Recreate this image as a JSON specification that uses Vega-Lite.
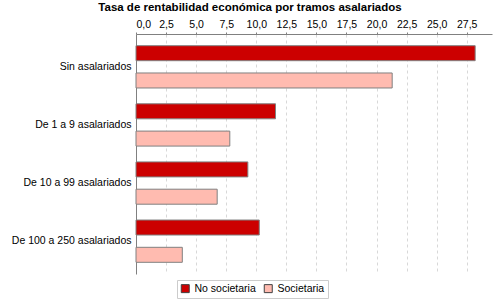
{
  "$schema": "https://vega.github.io/schema/vega-lite/v6.json",
  "autosize": "none",
  "padding": {"left": 136, "top": 34, "right": 7, "bottom": 26},
  "width": 356,
  "height": 240,
  "background": "white",
  "title": {
    "text": "Tasa de rentabilidad económica por tramos asalariados",
    "font": "Liberation Sans",
    "fontSize": 11.5,
    "fontWeight": "bold",
    "color": "#000000",
    "anchor": "middle",
    "dx": -64,
    "offset": 6
  },
  "data": {
    "values": [
      {"tramo": "Sin asalariados", "tipo": "No societaria", "valor": 28.2},
      {"tramo": "Sin asalariados", "tipo": "Societaria", "valor": 21.3},
      {"tramo": "De 1 a 9 asalariados", "tipo": "No societaria", "valor": 11.6},
      {"tramo": "De 1 a 9 asalariados", "tipo": "Societaria", "valor": 7.8},
      {"tramo": "De 10 a 99 asalariados", "tipo": "No societaria", "valor": 9.3},
      {"tramo": "De 10 a 99 asalariados", "tipo": "Societaria", "valor": 6.75},
      {"tramo": "De 100 a 250 asalariados", "tipo": "No societaria", "valor": 10.25},
      {"tramo": "De 100 a 250 asalariados", "tipo": "Societaria", "valor": 3.85}
    ]
  },
  "mark": {"type": "bar", "stroke": "#808080", "strokeWidth": 1},
  "encoding": {
    "y": {
      "field": "tramo",
      "type": "nominal",
      "sort": null,
      "title": null,
      "scale": {"paddingInner": 0, "paddingOuter": 0.065},
      "axis": {
        "ticks": false,
        "domainColor": "#808080",
        "labelFont": "Liberation Sans",
        "labelFontSize": 10.5,
        "labelColor": "#000000",
        "labelPadding": 5
      }
    },
    "yOffset": {
      "field": "tipo",
      "type": "nominal",
      "scale": {"paddingInner": 0.45, "paddingOuter": 0.29}
    },
    "x": {
      "field": "valor",
      "type": "quantitative",
      "title": null,
      "scale": {"domain": [0, 29.6], "nice": false},
      "axis": {
        "orient": "top",
        "values": [0, 2.5, 5, 7.5, 10, 12.5, 15, 17.5, 20, 22.5, 25, 27.5],
        "labelExpr": "replace(format(datum.value, '.1f'), '.', ',')",
        "domainColor": "#808080",
        "tickColor": "#808080",
        "tickSize": 2,
        "grid": true,
        "gridColor": "#d8d8d8",
        "gridDash": [3, 3],
        "labelFont": "Liberation Sans",
        "labelFontSize": 10.5,
        "labelColor": "#000000",
        "labelPadding": 3
      }
    },
    "color": {
      "field": "tipo",
      "type": "nominal",
      "title": null,
      "scale": {"domain": ["No societaria", "Societaria"], "range": ["#CC0000", "#FFBBB0"]},
      "legend": {
        "orient": "none",
        "direction": "horizontal",
        "legendX": 41,
        "legendY": 246,
        "symbolType": "square",
        "symbolSize": 64,
        "symbolStrokeColor": "#404040",
        "symbolStrokeWidth": 1,
        "symbolOpacity": 1,
        "labelFont": "Liberation Sans",
        "labelFontSize": 10.5,
        "labelColor": "#000000",
        "labelOffset": 4,
        "columnPadding": 6,
        "strokeColor": "#cccccc",
        "padding": 3
      }
    }
  },
  "config": {"view": {"stroke": null}}
}
